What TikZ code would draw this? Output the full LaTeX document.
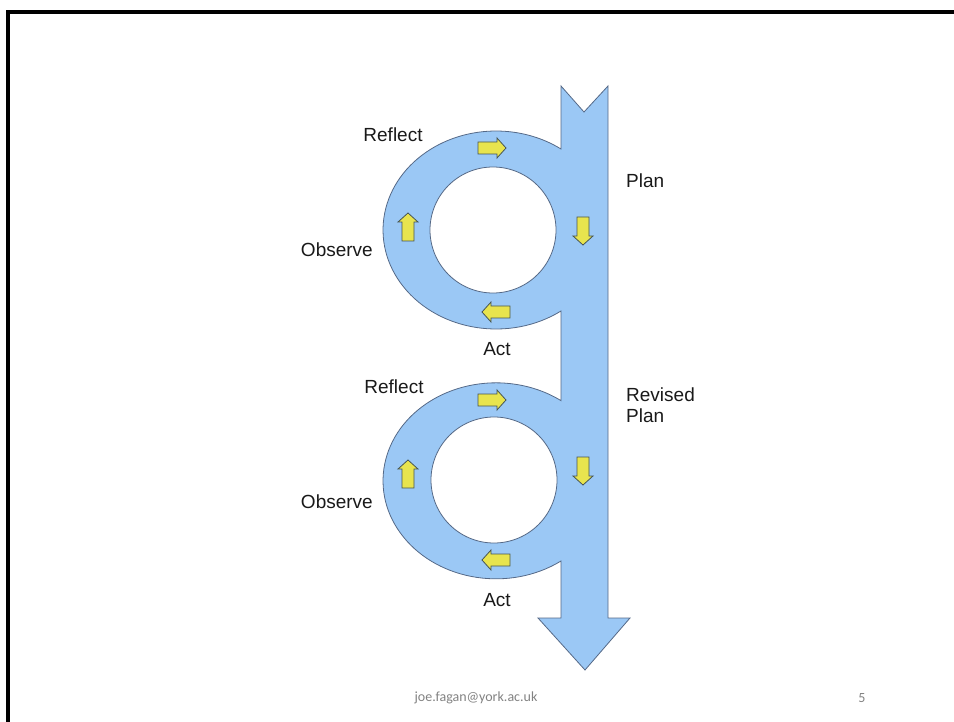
\documentclass[tikz,border=0pt]{standalone}
\usepackage{fontspec}
\setmainfont{Liberation Sans}
\newfontfamily\footfont{Carlito}
\definecolor{flowblue}{RGB}{155,200,245}
\definecolor{flowedge}{RGB}{85,105,135}
\definecolor{cueyellow}{RGB}{232,228,78}
\definecolor{cueedge}{RGB}{70,85,85}
\definecolor{footgray}{RGB}{130,130,130}
\tikzset{
  flow/.style={fill=flowblue, draw=flowedge, line width=0.8pt, line join=miter},
  hole/.style={fill=white, draw=flowedge, line width=0.8pt},
  cuearrow/.pic={
    \draw[draw=cueedge, fill=cueyellow, line width=0.8pt, line join=miter]
      (-14,-6) -- (5,-6) -- (5,-10) -- (14,0) -- (5,10) -- (5,6) -- (-14,6) -- cycle;
  },
  lab/.style={font=\fontsize{19}{21}\selectfont, inner sep=0pt, text=black!90},
  foot/.style={font=\footfont\fontsize{14}{16}\selectfont, inner sep=0pt, text=footgray}
}
\begin{document}
\begin{tikzpicture}[x=1pt,y=-1pt]
\useasboundingbox (0,0) rectangle (954,722);
% frame
\draw[line width=4pt, line join=miter] (7.5,722) -- (7.5,12) -- (954,12);
% big arrow with two loops
\draw[flow] (561,86) -- (584,112) -- (608,86) -- (608,618) -- (630,618)
  -- (585,670) -- (538,618) -- (561,618) -- (561,561)
  arc[start angle=54.9, end angle=305.1, x radius=113, y radius=98]
  -- (561,311)
  arc[start angle=54.9, end angle=305.1, x radius=113, y radius=99]
  -- cycle;
\draw[hole] (493,230) circle[radius=63];
\draw[hole] (494,480) circle[radius=63];
% yellow cue arrows
\pic at (492,148) {cuearrow};
\pic[rotate=90] at (408,227) {cuearrow};
\pic[rotate=-90] at (583,231) {cuearrow};
\pic[rotate=180] at (496,312) {cuearrow};
\pic at (492,400) {cuearrow};
\pic[rotate=90] at (408,474) {cuearrow};
\pic[rotate=-90] at (583,471) {cuearrow};
\pic[rotate=180] at (496,560) {cuearrow};
% labels
\node[lab] (reflect1) at (393,135) {Reflect};
\node[lab, anchor=east] (observe1) at (373,250) {Observe};
\node[lab] (act1) at (497,349) {Act};
\node[lab, anchor=west] (plan1) at (626,181) {Plan};
\node[lab] (reflect2) at (394,387) {Reflect};
\node[lab, anchor=east] (observe2) at (373,502) {Observe};
\node[lab] (act2) at (497,600) {Act};
\node[lab, anchor=west, align=left] (plan2) at (626,405) {Revised\\Plan};
% footer
\node[foot] (mail) at (476,698) {joe.fagan@york.ac.uk};
\node[foot] (page) at (862,698) {5};
\end{tikzpicture}
\end{document}
